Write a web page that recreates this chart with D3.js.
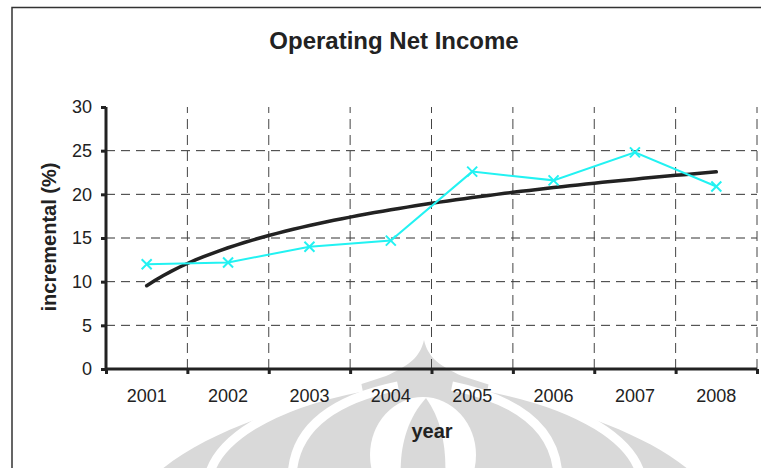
<!DOCTYPE html>
<html><head><meta charset="utf-8">
<script src="https://cdn.jsdelivr.net/npm/d3@7"></script>
<style>
body{margin:0;background:#fff}
svg{display:block}
text{font-family:"Liberation Sans",Arial,Helvetica,sans-serif;fill:#222}
</style>
</head><body>
<svg id="chart" width="761" height="468"></svg>
<script>
// ---- data ----
const years = ["2001","2002","2003","2004","2005","2006","2007","2008"];
const incremental = [12.0, 12.2, 14.0, 14.7, 22.6, 21.6, 24.8, 20.9];
const yTickValues = [0, 5, 10, 15, 20, 25, 30];
const gridValues = [5, 10, 15, 20, 25];
const chartTitle = "Operating Net Income";
const xAxisTitle = "year";
const yAxisTitle = "incremental (%)";

// ---- layout ----
const svg = d3.select("#chart");
const plot = {left:106, right:757, top:107, bottom:369};
const x = d3.scaleBand().domain(years).range([plot.left, plot.right]);
const bw = x.bandwidth();
const xc = d => x(d) + bw/2;
const y = d3.scaleLinear().domain([0, 30]).range([plot.bottom, plot.top]);
const bound = d3.scaleLinear().domain([0, years.length]).range([plot.left, plot.right]);

// outer chart border
svg.append("rect").attr("x",12).attr("y",7.5).attr("width",820).attr("height",520)
  .attr("fill","#fff").attr("stroke","#333").attr("stroke-width",1.5);

// ---- watermark (decorative) ----
const wm = svg.append("g").attr("class","watermark");
const gray = "#d9d9d9";
wm.append("path").attr("fill",gray)
  .attr("d","M424,340 C428,358 440,366 462,376 C560,408 650,430 700,480 L150,480 C200,430 290,408 386,376 C408,366 420,358 424,340 Z");
const wl = [
 "M208,480 C215,440 270,405 362,387",
 "M642,480 C635,440 580,405 488,387",
 "M292,480 C292,430 330,400 398,386",
 "M558,480 C558,430 520,400 452,386"
];
wm.selectAll("path.band").data(wl).join("path").attr("class","band")
  .attr("d",d=>d).attr("fill","none").attr("stroke","#fff").attr("stroke-width",9);
wm.append("ellipse").attr("cx",423).attr("cy",455).attr("rx",53).attr("ry",58).attr("fill","#fff");
wm.append("path").attr("fill",gray)
  .attr("d","M426,398 C442,420 447,450 445,480 L401,480 C399,450 406,420 426,398 Z");

// ---- gridlines ----
svg.append("g").selectAll("line").data(gridValues).join("line")
  .attr("x1",plot.left).attr("x2",plot.right)
  .attr("y1",d=>y(d)).attr("y2",d=>y(d))
  .attr("stroke","#333").attr("stroke-width",1).attr("stroke-dasharray","9,6");
svg.append("g").selectAll("line").data(d3.range(1, years.length+1)).join("line")
  .attr("x1",d=>bound(d)).attr("x2",d=>bound(d))
  .attr("y1",y(0)).attr("y2",y(30))
  .attr("stroke","#444").attr("stroke-width",1).attr("stroke-dasharray","10,6");

// ---- axes ----
const yAxis = svg.append("g").attr("transform",`translate(${plot.left},0)`)
  .call(d3.axisLeft(y).tickValues(yTickValues).tickSize(5).tickPadding(9).tickFormat(d3.format("d")));
yAxis.select(".domain").attr("stroke","#222").attr("stroke-width",3).attr("d",`M0,${y(30)}V${y(0)}`);
yAxis.selectAll(".tick line").attr("stroke","#222").attr("stroke-width",3);
yAxis.selectAll("text").attr("font-size",18).attr("fill","#222").style("font-family",'"Liberation Sans",Arial,sans-serif');

const xTicks = svg.append("g").attr("transform",`translate(0,${plot.bottom})`)
  .call(d3.axisBottom(bound).tickValues(d3.range(0, years.length+1)).tickSize(5).tickFormat(""));
xTicks.select(".domain").attr("stroke","#222").attr("stroke-width",3).attr("d",`M${plot.left},0H${plot.right}`);
xTicks.selectAll(".tick line").attr("stroke","#222").attr("stroke-width",3);

const xLabels = svg.append("g").attr("transform",`translate(0,${plot.bottom})`)
  .call(d3.axisBottom(x).tickSize(0).tickPadding(20));
xLabels.select(".domain").remove();
xLabels.selectAll("text").attr("font-size",18).attr("fill","#222").style("font-family",'"Liberation Sans",Arial,sans-serif');

// ---- logarithmic trendline (least squares fit of the series) ----
const lx = incremental.map((v,i)=>Math.log(i+1));
const mx = d3.mean(lx), my = d3.mean(incremental);
const b = d3.sum(lx.map((v,i)=>(v-mx)*(incremental[i]-my))) / d3.sum(lx.map(v=>(v-mx)*(v-mx)));
const a = my - b*mx;
const tpos = d3.scaleLinear().domain([1, years.length]).range([xc(years[0]), xc(years[years.length-1])]);
const trendPts = d3.range(1, years.length+0.0001, 0.1).map(t=>[tpos(t), y(a + b*Math.log(t))]);
svg.append("path").attr("d", d3.line()(trendPts))
  .attr("fill","none").attr("stroke","#222").attr("stroke-width",3.5).attr("stroke-linecap","round");

// ---- series line ----
svg.append("path").datum(incremental)
  .attr("d", d3.line().x((d,i)=>xc(years[i])).y(d=>y(d)))
  .attr("fill","none").attr("stroke","#22f2f2").attr("stroke-width",2);
const s = 5;
svg.append("g").selectAll("path").data(incremental).join("path")
  .attr("d",(d,i)=>{const cx=xc(years[i]), cy=y(d); return `M${cx-s},${cy-s}L${cx+s},${cy+s}M${cx-s},${cy+s}L${cx+s},${cy-s}`;})
  .attr("stroke","#22f2f2").attr("stroke-width",2).attr("fill","none");

// ---- titles ----
svg.append("text").attr("x",394).attr("y",49).attr("text-anchor","middle")
  .attr("font-size",24).attr("font-weight","bold").text(chartTitle);
svg.append("text").attr("x",432).attr("y",438).attr("text-anchor","middle")
  .attr("font-size",20).attr("font-weight","bold").text(xAxisTitle);
svg.append("text").attr("transform","translate(56,237) rotate(-90)").attr("text-anchor","middle")
  .attr("font-size",20).attr("font-weight","bold").text(yAxisTitle);
</script>
</body></html>
